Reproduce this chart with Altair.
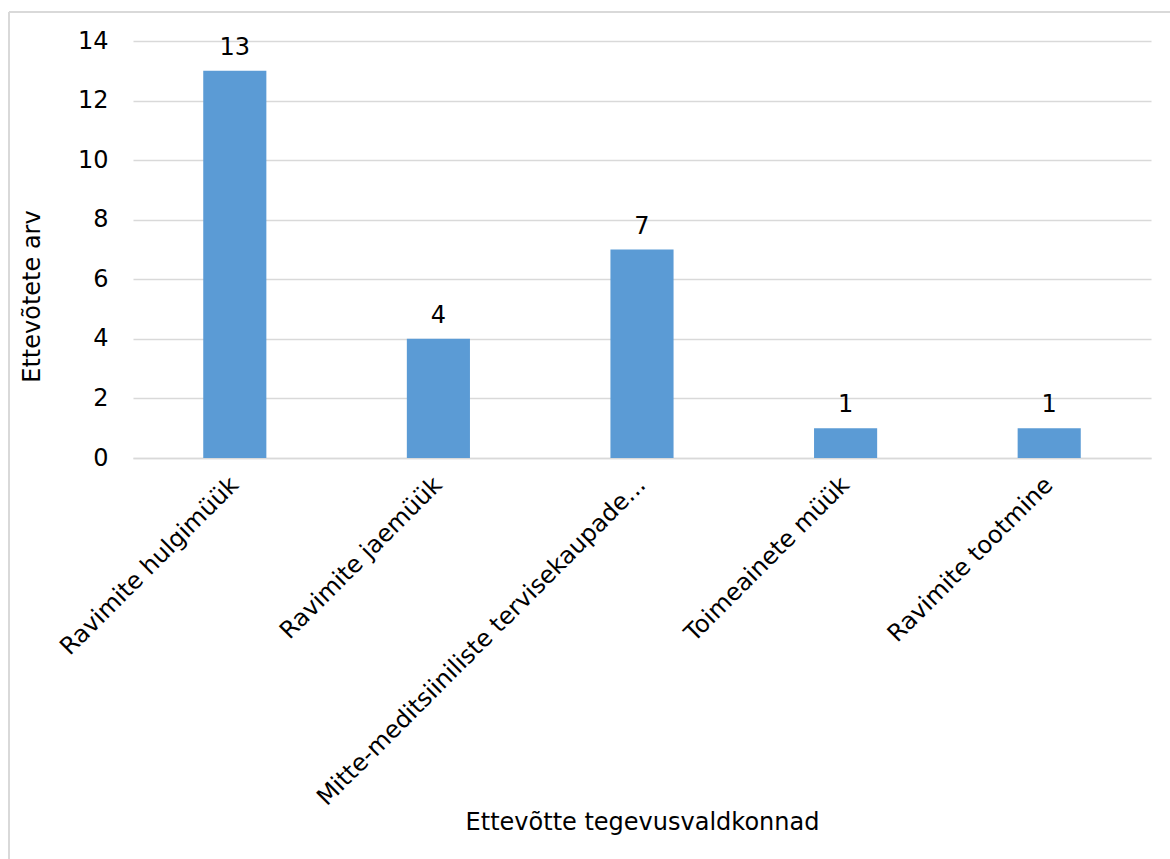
import altair as alt
import pandas as pd

# Business activity areas and number of companies in each
categories = [
    "Ravimite hulgimüük",
    "Ravimite jaemüük",
    "Mitte-meditsiiniliste tervisekaupade...",
    "Toimeainete müük",
    "Ravimite tootmine",
]
counts = [13, 4, 7, 1, 1]

df = pd.DataFrame({"valdkond": categories, "arv": counts})

FONT = "DejaVu Sans"
FS = 24
BLUE = "#5B9BD5"
GRID = "#D9D9D9"

W, H = 1018, 417

x_enc = alt.X(
    "valdkond:N",
    sort=categories,
    scale=alt.Scale(paddingInner=0.69, paddingOuter=0.345),
    axis=alt.Axis(
        title="Ettevõtte tegevusvaldkonnad",
        labelAngle=-45,
        labelAlign="right",
        labelBaseline="middle",
        labelPadding=23,
        labelLimit=0,
        ticks=False,
        domainColor=GRID,
        domainWidth=1.5,
        titleY=364,
        titleBaseline="middle",
    ),
)
y_enc = alt.Y(
    "arv:Q",
    scale=alt.Scale(domain=[0, 14]),
    axis=alt.Axis(
        title="Ettevõtete arv",
        values=[0, 2, 4, 6, 8, 10, 12, 14],
        ticks=False,
        domain=False,
        labelPadding=25,
        gridColor=GRID,
        gridWidth=1.5,
        titleAngle=270,
        titleAlign="center",
        titleBaseline="middle",
        titleX=-101,
        titleY=255,
    ),
)

bars = alt.Chart(df).mark_bar(color=BLUE).encode(x=x_enc, y=y_enc)

labels = alt.Chart(df).mark_text(
    font=FONT, fontSize=FS, color="#000000", baseline="alphabetic", dy=-16
).encode(x=alt.X("valdkond:N", sort=categories), y="arv:Q", text="arv:Q")

# Light frame around the chart area (left and top edges)
frame_left = alt.Chart(df).mark_rule(color=GRID, strokeWidth=1.5).encode(
    x=alt.value(-124), y=alt.value(-29), y2=alt.value(H + 401)
)
frame_top = alt.Chart(df).mark_rule(color=GRID, strokeWidth=1.5).encode(
    x=alt.value(-124), x2=alt.value(W + 19), y=alt.value(-29)
)

chart = (
    alt.layer(frame_left, frame_top, bars, labels)
    .properties(
        width=W,
        height=H,
        autosize=alt.AutoSizeParams(type="none"),
        padding={"left": 133, "top": 41, "right": 19, "bottom": 401},
        background="#FFFFFF",
    )
    .configure_view(stroke=None)
    .configure_axis(
        labelFont=FONT,
        labelFontSize=FS,
        labelColor="#000000",
        titleFont=FONT,
        titleFontSize=FS,
        titleColor="#000000",
        titleFontWeight="normal",
    )
)

chart.save("out.html", embed_options={"renderer": "svg", "actions": False})
